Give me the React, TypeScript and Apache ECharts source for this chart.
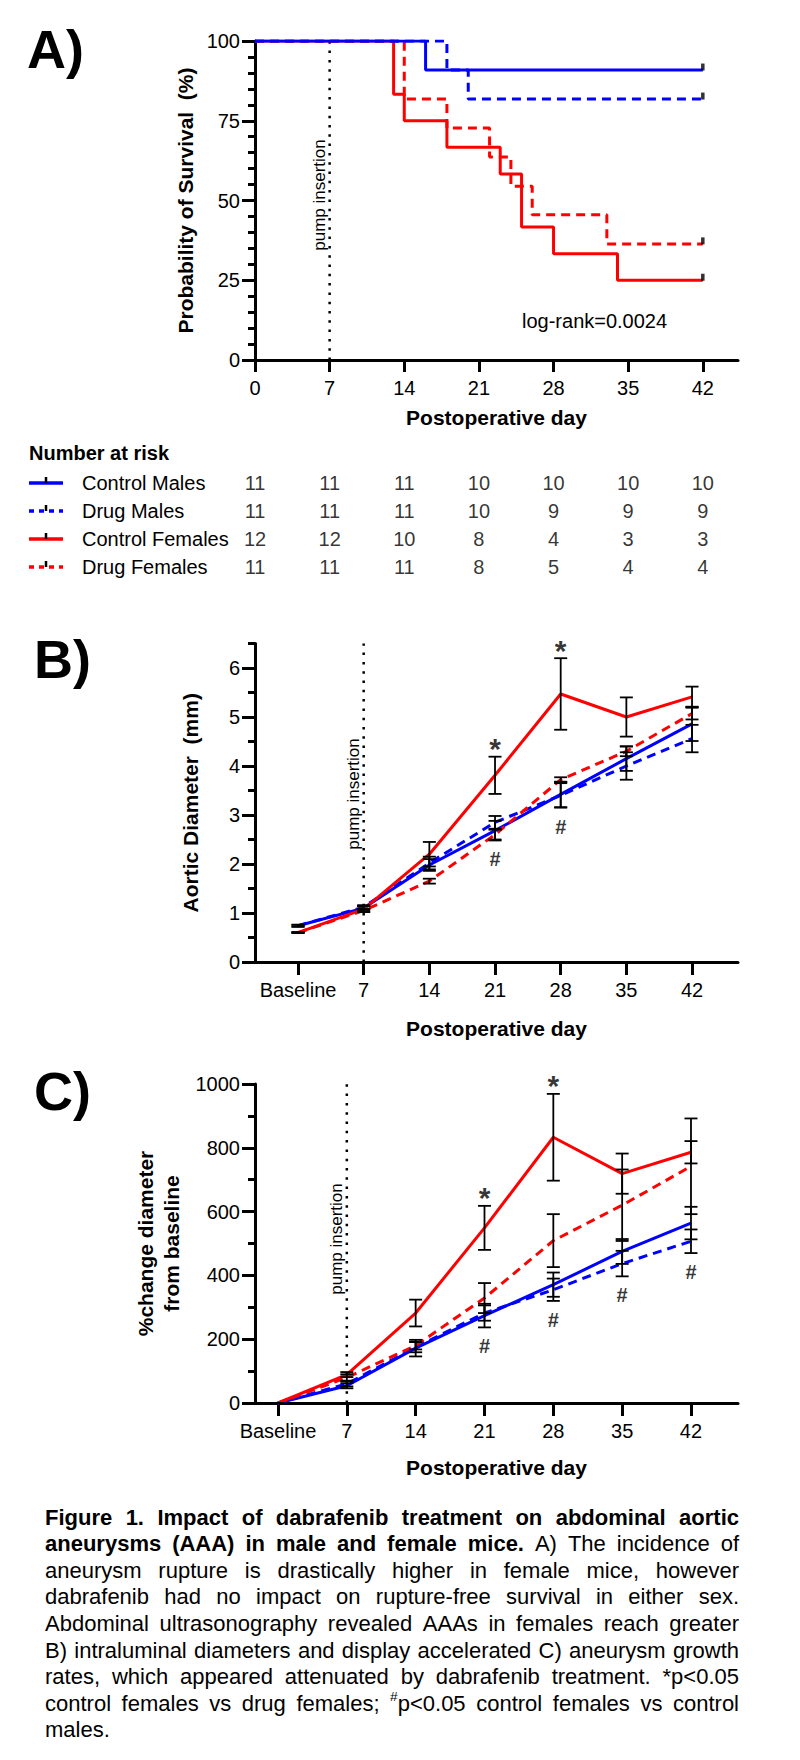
import React, { useEffect, useRef } from 'react';
import * as echarts from 'echarts';

const FONT = "'Liberation Sans', Arial, Helvetica, sans-serif";
const BLUE = '#0000ff';
const RED = '#ff0000';

// ---- groups ----
const groups = ['Control Males', 'Drug Males', 'Control Females', 'Drug Females'];
const groupColors = [BLUE, BLUE, RED, RED];
const groupDashed = [false, true, false, true];

// ---- A) Kaplan-Meier rupture-free survival (%), step points ----
const kmControlMalesDays = [0, 16, 42];
const kmControlMalesSurv = [100, 90.9, 90.9];
const kmDrugMalesDays = [0, 18, 20, 42];
const kmDrugMalesSurv = [100, 90.9, 81.8, 81.8];
const kmControlFemalesDays = [0, 13, 14, 18, 23, 25, 28, 34, 42];
const kmControlFemalesSurv = [100, 83.3, 75, 66.7, 58.3, 41.7, 33.3, 25, 25];
const kmDrugFemalesDays = [0, 14, 18, 22, 24, 26, 33, 42];
const kmDrugFemalesSurv = [100, 81.8, 72.7, 63.6, 54.5, 45.5, 36.4, 36.4];
const survivalTicks = [0, 7, 14, 21, 28, 35, 42];
const pumpDay = 7;
const logRankText = 'log-rank=0.0024';

// ---- number at risk ----
const riskDays = [0, 7, 14, 21, 28, 35, 42];
const riskControlMales = [11, 11, 11, 10, 10, 10, 10];
const riskDrugMales = [11, 11, 11, 10, 9, 9, 9];
const riskControlFemales = [12, 12, 10, 8, 4, 3, 3];
const riskDrugFemales = [11, 11, 11, 8, 5, 4, 4];

// ---- B / C time points ----
const timeLabels = ['Baseline', '7', '14', '21', '28', '35', '42'];
const pumpIndex = 1;

// ---- B) aortic diameter (mm), mean and SEM ----
const diamControlMales = [0.74, 1.1, 1.98, 2.68, 3.42, 4.15, 4.86];
const diamControlMalesErr = [0.02, 0.04, 0.12, 0.2, 0.26, 0.25, 0.35];
const diamDrugMales = [0.74, 1.12, 2.02, 2.85, 3.4, 4.0, 4.56];
const diamDrugMalesErr = [0.02, 0.04, 0.13, 0.13, 0.25, 0.28, 0.28];
const diamControlFemales = [0.6, 1.08, 2.2, 3.81, 5.47, 5.0, 5.41];
const diamControlFemalesErr = [0.01, 0.06, 0.25, 0.38, 0.73, 0.4, 0.21];
const diamDrugFemales = [0.6, 1.05, 1.65, 2.6, 3.72, 4.3, 5.07];
const diamDrugFemalesErr = [0.01, 0.03, 0.05, 0.1, 0.05, 0.1, 0.12];
const starIdxB = [3, 4];
const hashIdxB = [3, 4];

// ---- C) % change in diameter from baseline, mean and SEM ----
const pctControlMales = [0, 54, 172, 274, 371, 475, 564];
const pctControlMalesErr = [0, 8, 26, 37, 38, 39, 51];
const pctDrugMales = [0, 60, 175, 282, 355, 437, 507];
const pctDrugMalesErr = [0, 8, 16, 24, 35, 40, 37];
const pctControlFemales = [0, 89, 282, 549, 833, 719, 786];
const pctControlFemalesErr = [0, 8, 42, 69, 136, 63, 35];
const pctDrugFemales = [0, 80, 180, 329, 509, 620, 742];
const pctDrugFemalesErr = [0, 10, 12, 47, 83, 112, 150];
const starIdxC = [3, 4];
const hashIdxC = [3, 4, 5, 6];

// ---- caption ----
type Seg = { text: string; bold?: boolean; sup?: boolean };
const captionLines: Seg[][] = [
  [{ text: 'Figure 1. Impact of dabrafenib treatment on abdominal aortic', bold: true }],
  [{ text: 'aneurysms (AAA) in male and female mice.', bold: true }, { text: ' A) The incidence of' }],
  [{ text: 'aneurysm rupture is drastically higher in female mice, however' }],
  [{ text: 'dabrafenib had no impact on rupture-free survival in either sex.' }],
  [{ text: 'Abdominal ultrasonography revealed AAAs in females reach greater' }],
  [{ text: 'B) intraluminal diameters and display accelerated C) aneurysm growth' }],
  [{ text: 'rates, which appeared attenuated by dabrafenib treatment. *p<0.05' }],
  [{ text: 'control females vs drug females; ' }, { text: '#', sup: true }, { text: 'p<0.05 control females vs control' }],
  [{ text: 'males.' }],
];

// ---- layout ----
const AX_LEFT = 255;
const AX_WIDTH = 483;
const gridA = { left: AX_LEFT, top: 41, width: AX_WIDTH, height: 319 };
const gridRisk = { left: AX_LEFT, top: 469, width: AX_WIDTH, height: 112 };
const gridB = { left: AX_LEFT, top: 643.5, width: AX_WIDTH, height: 318.5 };
const gridC = { left: AX_LEFT, top: 1084, width: AX_WIDTH, height: 319 };

const TICK = 20;
const CAP_LEFT = 45;
const CAP_RIGHT = 739;
const CAP_TOP = 1517;
const CAP_LINE = 26.6;

const measureCtx = document.createElement('canvas').getContext('2d') as CanvasRenderingContext2D;
function textWidth(t: string, size: number, bold: boolean) {
  measureCtx.font = `${bold ? 'bold ' : ''}${size}px ${FONT}`;
  return measureCtx.measureText(t).width;
}

const black = '#000';
const axisLine = { show: true, onZero: false, lineStyle: { color: black, width: 3 } };
const tickLabel = { color: black, fontFamily: FONT, fontSize: TICK };
const titleStyle = { color: black, fontFamily: FONT, fontSize: 21, fontWeight: 'bold' as const };
const plainNumber = (v: number) => String(v);

function zip(xs: number[], ys: number[]) {
  return xs.map((x, i) => [x, ys[i]]);
}

function lineStyleFor(g: number) {
  return { color: groupColors[g], width: 3, type: groupDashed[g] ? [9, 6] : 'solid' };
}

function errorSeries(xi: number, yi: number, means: number[], errs: number[]) {
  return {
    type: 'custom',
    xAxisIndex: xi,
    yAxisIndex: yi,
    z: 5,
    silent: true,
    data: means.map((m, i) => [i, m, errs[i]]),
    encode: { x: 0, y: 1 },
    renderItem: (_p: any, api: any) => {
      const x = api.value(0);
      const m = api.value(1);
      const e = api.value(2);
      const top = api.coord([x, m + e]);
      const bot = api.coord([x, m - e]);
      const hw = 6.5;
      const st = { stroke: black, lineWidth: 1.8 };
      return {
        type: 'group',
        children: [
          { type: 'line', shape: { x1: top[0], y1: top[1], x2: bot[0], y2: bot[1] }, style: st },
          { type: 'line', shape: { x1: top[0] - hw, y1: top[1], x2: top[0] + hw, y2: top[1] }, style: st },
          { type: 'line', shape: { x1: bot[0] - hw, y1: bot[1], x2: bot[0] + hw, y2: bot[1] }, style: st },
        ],
      };
    },
  };
}

function pumpLine(xi: number, yi: number, x: number, yMax: number) {
  return {
    type: 'line',
    xAxisIndex: xi,
    yAxisIndex: yi,
    data: [[x, 0], [x, yMax]],
    symbol: 'none',
    silent: true,
    z: 1,
    lineStyle: { color: black, width: 2.5, type: [2.5, 6.8] },
  };
}

// significance marks sit a fixed distance off the end of an error bar
function markerSeries(xi: number, yi: number, pts: number[][], text: string, below: boolean) {
  return {
    type: 'scatter',
    xAxisIndex: xi,
    yAxisIndex: yi,
    symbolSize: 0,
    clip: false,
    silent: true,
    z: 6,
    data: pts,
    label: {
      show: true,
      formatter: text,
      position: 'inside',
      offset: below ? [0, 19] : [0, -8],
      color: black,
      fontFamily: FONT,
      fontWeight: 'bold',
      fontSize: below ? 20 : 30,
    },
  };
}

function panelBC(
  xi: number,
  yi: number,
  means: number[][],
  errs: number[][],
  yMax: number,
  starIdx: number[],
  hashIdx: number[],
) {
  const list: any[] = [pumpLine(xi, yi, pumpIndex, yMax)];
  means.forEach((m, g) => {
    list.push({
      type: 'line',
      name: groups[g],
      xAxisIndex: xi,
      yAxisIndex: yi,
      data: m.map((v, i) => [i, v]),
      symbol: 'none',
      z: 3,
      lineStyle: lineStyleFor(g),
    });
  });
  means.forEach((m, g) => list.push(errorSeries(xi, yi, m, errs[g])));
  // * above the control-female bar, # below the lowest bar of that time point
  const starPts = starIdx.map((i) => [i, means[2][i] + errs[2][i]]);
  const hashPts = hashIdx.map((i) => [i, Math.min(...means.map((m, g) => m[i] - errs[g][i]))]);
  list.push(markerSeries(xi, yi, starPts, '*', false));
  list.push(markerSeries(xi, yi, hashPts, '#', true));
  return list;
}

function captionElements() {
  // split every line into words made of styled pieces
  const lines = captionLines.map((segs) => {
    const words: Seg[][] = [[]];
    segs.forEach((seg) => {
      seg.text.split(' ').forEach((part, j) => {
        if (j > 0) words.push([]);
        if (part) words[words.length - 1].push({ text: part, bold: !!seg.bold, sup: !!seg.sup });
      });
    });
    return words.filter((w) => w.length);
  });
  const pieceW = (p: Seg, size: number) => textWidth(p.text, p.sup ? size * 0.62 : size, !!p.bold);
  const wordW = (w: Seg[], size: number) => w.reduce((s, p) => s + pieceW(p, size), 0);
  // font size: the tightest justified line fits with ordinary word spaces
  const avail = CAP_RIGHT - CAP_LEFT;
  let size = 22;
  lines.slice(0, -1).forEach((ws) => {
    const nat = ws.reduce((s, w) => s + wordW(w, 10), 0) + (ws.length - 1) * textWidth(' ', 10, false);
    size = Math.min(size, (avail / nat) * 10 * 0.995);
  });

  const els: any[] = [];
  lines.forEach((ws, li) => {
    const widths = ws.map((w) => wordW(w, size));
    const total = widths.reduce((a, b) => a + b, 0);
    const last = li === lines.length - 1;
    const gap = last || ws.length < 2 ? textWidth(' ', size, false) : (avail - total) / (ws.length - 1);
    const y = CAP_TOP + li * CAP_LINE;
    let x = CAP_LEFT;
    ws.forEach((w, wi) => {
      let px = x;
      w.forEach((p) => {
        els.push({
          type: 'text',
          x: px,
          y: p.sup ? y - size * 0.32 : y,
          silent: true,
          style: {
            text: p.text,
            fontFamily: FONT,
            fontSize: p.sup ? size * 0.62 : size,
            fontWeight: p.bold ? 'bold' : 'normal',
            fill: black,
            verticalAlign: 'middle',
          },
        });
        px += pieceW(p, size);
      });
      x += widths[wi] + gap;
    });
  });
  return els;
}

function buildOption() {
  const kmDays = [kmControlMalesDays, kmDrugMalesDays, kmControlFemalesDays, kmDrugFemalesDays];
  const kmSurv = [kmControlMalesSurv, kmDrugMalesSurv, kmControlFemalesSurv, kmDrugFemalesSurv];
  const risk = [riskControlMales, riskDrugMales, riskControlFemales, riskDrugFemales];
  const diam = [diamControlMales, diamDrugMales, diamControlFemales, diamDrugFemales];
  const diamErr = [diamControlMalesErr, diamDrugMalesErr, diamControlFemalesErr, diamDrugFemalesErr];
  const pct = [pctControlMales, pctDrugMales, pctControlFemales, pctDrugFemales];
  const pctErr = [pctControlMalesErr, pctDrugMalesErr, pctControlFemalesErr, pctDrugFemalesErr];

  const idxTicks = timeLabels.map((_, i) => i);
  const catLabel = (v: number) => timeLabels[Math.round(v)] ?? '';

  const xAxis: any[] = [
    {
      gridIndex: 0, type: 'value', min: 0, max: 45.3,
      axisLine, splitLine: { show: false },
      axisTick: { show: true, length: 12, customValues: survivalTicks, lineStyle: { color: black, width: 3 } },
      axisLabel: { ...tickLabel, customValues: survivalTicks, margin: 18, formatter: plainNumber },
      name: 'Postoperative day', nameLocation: 'middle', nameGap: 47, nameTextStyle: titleStyle,
    },
    { gridIndex: 1, type: 'value', min: 0, max: 45.3, show: false },
    {
      gridIndex: 2, type: 'value', min: -0.655, max: 6.7,
      axisLine, splitLine: { show: false },
      axisTick: { show: true, length: 13, customValues: idxTicks, lineStyle: { color: black, width: 3 } },
      axisLabel: { ...tickLabel, customValues: idxTicks, formatter: catLabel, margin: 18 },
      name: 'Postoperative day', nameLocation: 'middle', nameGap: 56, nameTextStyle: titleStyle,
    },
    {
      gridIndex: 3, type: 'value', min: -0.334, max: 6.683,
      axisLine, splitLine: { show: false },
      axisTick: { show: true, length: 13, customValues: idxTicks, lineStyle: { color: black, width: 3 } },
      axisLabel: { ...tickLabel, customValues: idxTicks, formatter: catLabel, margin: 18 },
      name: 'Postoperative day', nameLocation: 'middle', nameGap: 54, nameTextStyle: titleStyle,
    },
  ];

  const diamMajor = [0, 1, 2, 3, 4, 5, 6];
  const diamMinor = [0.5, 1.5, 2.5, 3.5, 4.5, 5.5, 6.5];

  const yAxis: any[] = [
    {
      gridIndex: 0, type: 'value', min: 0, max: 100, interval: 25,
      axisLine, splitLine: { show: false },
      axisTick: { show: true, length: 13, lineStyle: { color: black, width: 3 } },
      minorTick: { show: true, splitNumber: 5, length: 7, lineStyle: { color: black, width: 3 } },
      minorSplitLine: { show: false },
      axisLabel: { ...tickLabel, margin: 15, formatter: plainNumber },
      name: 'Probability of Survival  (%)', nameLocation: 'middle', nameRotate: 90, nameGap: 57,
      nameTextStyle: titleStyle,
    },
    {
      gridIndex: 1, type: 'category', data: groups, inverse: true,
      axisLine: { show: false }, axisTick: { show: false }, splitLine: { show: false },
      axisLabel: { ...tickLabel, align: 'left', margin: 173 },
    },
    {
      gridIndex: 2, type: 'value', min: 0, max: 6.5, position: 'left',
      axisLine, splitLine: { show: false },
      axisTick: { show: true, length: 13, customValues: diamMajor, lineStyle: { color: black, width: 3 } },
      axisLabel: { ...tickLabel, customValues: diamMajor, margin: 15, formatter: plainNumber },
      name: 'Aortic Diameter  (mm)', nameLocation: 'middle', nameRotate: 90, nameGap: 54,
      nameTextStyle: titleStyle,
    },
    {
      // half-millimetre minor ticks on the same left edge
      gridIndex: 2, type: 'value', min: 0, max: 6.5, position: 'left', offset: 0,
      axisLine: { show: false, onZero: false }, splitLine: { show: false },
      axisTick: { show: true, length: 7, customValues: diamMinor, lineStyle: { color: black, width: 3 } },
      axisLabel: { show: false },
    },
    {
      gridIndex: 3, type: 'value', min: 0, max: 1000, interval: 200,
      axisLine, splitLine: { show: false },
      axisTick: { show: true, length: 13, lineStyle: { color: black, width: 3 } },
      minorTick: { show: true, splitNumber: 2, length: 7, lineStyle: { color: black, width: 3 } },
      minorSplitLine: { show: false },
      axisLabel: { ...tickLabel, margin: 15, formatter: plainNumber },
      name: '%change diameter\nfrom baseline', nameLocation: 'middle', nameRotate: 90, nameGap: 63,
      nameTextStyle: { ...titleStyle, lineHeight: 26 },
    },
  ];

  const series: any[] = [];

  // A) survival steps
  series.push(pumpLine(0, 0, pumpDay, 100));
  [3, 2, 1, 0].forEach((g) => {
    series.push({
      type: 'line',
      name: groups[g],
      xAxisIndex: 0,
      yAxisIndex: 0,
      step: 'end',
      data: zip(kmDays[g], kmSurv[g]),
      symbol: 'none',
      z: 3,
      lineStyle: lineStyleFor(g),
    });
  });
  // censor marks at the end of follow-up
  series.push({
    type: 'scatter',
    xAxisIndex: 0,
    yAxisIndex: 0,
    symbol: 'rect',
    symbolSize: [3.5, 7],
    symbolOffset: [0, -3],
    itemStyle: { color: black },
    silent: true,
    z: 4,
    data: kmDays.map((d, g) => [d[d.length - 1], kmSurv[g][kmSurv[g].length - 1]]),
  });

  // number at risk
  risk.forEach((counts, g) => {
    series.push({
      type: 'scatter',
      xAxisIndex: 1,
      yAxisIndex: 1,
      symbolSize: 0,
      silent: true,
      data: riskDays.map((d, i) => [d, g, counts[i]]),
      label: {
        show: true,
        position: 'inside',
        formatter: (p: any) => String(p.value[2]),
        ...tickLabel,
      },
    });
  });

  // B) and C)
  series.push(...panelBC(2, 2, diam, diamErr, 6.5, starIdxB, hashIdxB));
  series.push(...panelBC(3, 4, pct, pctErr, 1000, starIdxC, hashIdxC));

  // legend samples of the risk table
  const rowH = gridRisk.height / groups.length;
  const legendEls: any[] = [];
  groups.forEach((_, g) => {
    const y = gridRisk.top + rowH * (g + 0.5);
    legendEls.push({
      type: 'line',
      silent: true,
      shape: { x1: 29, y1: y, x2: 63, y2: y },
      style: { stroke: groupColors[g], lineWidth: 3.5, lineDash: groupDashed[g] ? [5, 5] : null },
    });
    legendEls.push({
      type: 'line',
      silent: true,
      shape: { x1: 46, y1: y - 6, x2: 46, y2: y },
      style: { stroke: black, lineWidth: 2.5 },
    });
  });

  const panelLabel = (t: string, x: number, y: number) => ({
    type: 'text',
    x,
    y,
    silent: true,
    style: { text: t, fontFamily: FONT, fontSize: 54, fontWeight: 'bold', fill: black, verticalAlign: 'top' },
  });
  const pumpText = (x: number, y: number) => ({
    type: 'text',
    x,
    y,
    rotation: Math.PI / 2,
    silent: true,
    style: {
      text: 'pump insertion', fontFamily: FONT, fontSize: 17, fill: black, align: 'center', verticalAlign: 'middle',
    },
  });

  return {
    animation: false,
    backgroundColor: '#fff',
    grid: [gridA, gridRisk, gridB, gridC],
    xAxis,
    yAxis,
    series,
    graphic: [
      panelLabel('A)', 27, 22),
      panelLabel('B)', 34, 632),
      panelLabel('C)', 34, 1064),
      pumpText(319, 195),
      pumpText(353, 794),
      pumpText(336, 1239),
      {
        type: 'text',
        x: 522,
        y: 321,
        silent: true,
        style: { text: logRankText, fontFamily: FONT, fontSize: 20, fill: black, verticalAlign: 'middle' },
      },
      {
        type: 'text',
        x: 29,
        y: 453,
        silent: true,
        style: {
          text: 'Number at risk', fontFamily: FONT, fontSize: 20, fontWeight: 'bold', fill: black, verticalAlign: 'middle',
        },
      },
      ...legendEls,
      ...captionElements(),
    ],
  };
}

export default function App() {
  const ref = useRef<HTMLDivElement>(null);
  useEffect(() => {
    if (!ref.current) return;
    const chart = echarts.init(ref.current, null, { renderer: 'svg' });
    chart.setOption(buildOption() as any);
    return () => chart.dispose();
  }, []);
  return (
    <div
      ref={ref}
      style={{ position: 'absolute', left: 0, top: 0, width: 800, height: 1760, background: '#fff' }}
    />
  );
}
